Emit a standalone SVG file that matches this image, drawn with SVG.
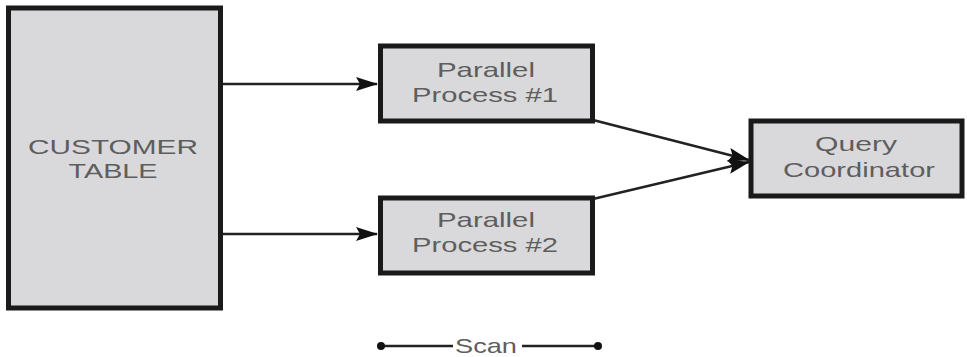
<svg xmlns="http://www.w3.org/2000/svg" width="967" height="357" viewBox="0 0 967 357">
<defs>
<style>
.box{fill:#d9d9db;stroke:#1a1a1a;stroke-width:5}
.t{font-family:"Liberation Sans",Arial,sans-serif;font-size:21px;fill:#5e5e5e;text-anchor:middle}
.c{stroke:#222;stroke-width:2.5;fill:none}
</style>
<marker id="ah" markerWidth="22" markerHeight="14" refX="21" refY="7" orient="auto" markerUnits="userSpaceOnUse">
<path d="M0,0 L22,7 L0,14 L4,7 Z" fill="#111"/>
</marker>
</defs>
<rect width="967" height="357" fill="#fff"/>
<g id="connectors">
<line class="c" x1="222" y1="84" x2="377" y2="84" marker-end="url(#ah)"/>
<line class="c" x1="222" y1="234" x2="377" y2="234" marker-end="url(#ah)"/>
<line class="c" x1="593" y1="120" x2="749" y2="160" marker-end="url(#ah)"/>
<line class="c" x1="593" y1="199" x2="749" y2="162" marker-end="url(#ah)"/>
</g>
<g id="customer-table">
<rect class="box" x="8.5" y="8" width="212" height="300"/>
<text class="t" x="113" y="154" textLength="170" lengthAdjust="spacingAndGlyphs">CUSTOMER</text>
<text class="t" x="113" y="178" textLength="89" lengthAdjust="spacingAndGlyphs">TABLE</text>
</g>
<g id="process1">
<rect class="box" x="380.5" y="46" width="212" height="75"/>
<text class="t" x="486" y="77" textLength="98" lengthAdjust="spacingAndGlyphs">Parallel</text>
<text class="t" x="485" y="102" textLength="146" lengthAdjust="spacingAndGlyphs">Process #1</text>
</g>
<g id="process2">
<rect class="box" x="380.5" y="198" width="212" height="75"/>
<text class="t" x="486" y="227" textLength="98" lengthAdjust="spacingAndGlyphs">Parallel</text>
<text class="t" x="485" y="252" textLength="146" lengthAdjust="spacingAndGlyphs">Process #2</text>
</g>
<g id="query-coordinator">
<rect class="box" x="751" y="121" width="211" height="75"/>
<text class="t" x="856" y="151" textLength="82" lengthAdjust="spacingAndGlyphs">Query</text>
<text class="t" x="859" y="177" textLength="152" lengthAdjust="spacingAndGlyphs">Coordinator</text>
</g>
<g id="scan">
<line class="c" x1="380" y1="346" x2="453" y2="346"/>
<line class="c" x1="522" y1="346" x2="598" y2="346"/>
<circle cx="381" cy="346" r="4" fill="#111"/>
<circle cx="598" cy="346" r="4" fill="#111"/>
<text class="t" x="486" y="353" textLength="62" lengthAdjust="spacingAndGlyphs">Scan</text>
</g>
</svg>
